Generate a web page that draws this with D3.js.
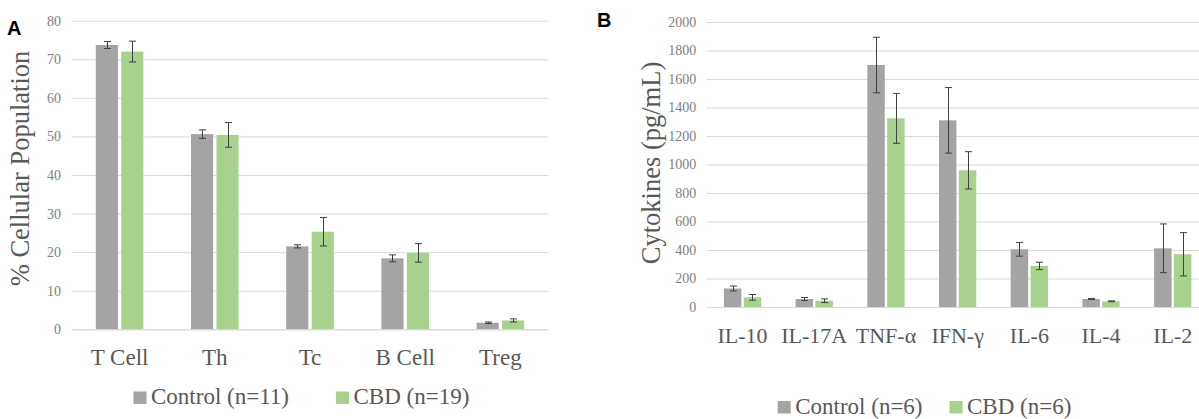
<!DOCTYPE html>
<html>
<head>
<meta charset="utf-8">
<script src="https://cdn.jsdelivr.net/npm/d3@7"></script>
<style>
  body { margin: 0; background: #fff; }
  svg { display: block; }
</style>
</head>
<body>
<div id="chart"></div>
<script>
// Panel A: immune cell populations
var cellTypes = ['T Cell', 'Th', 'Tc', 'B Cell', 'Treg']
var cellControl = [73.7, 50.6, 21.5, 18.4, 1.7]
var cellControlErr = [0.9, 1.1, 0.4, 0.9, 0.2]
var cellCbd = [72.0, 50.4, 25.3, 19.8, 2.3]
var cellCbdErr = [2.7, 3.2, 3.7, 2.4, 0.4]
var cellTicks = [0, 10, 20, 30, 40, 50, 60, 70, 80]

// Panel B: cytokines
var cytokines = ['IL-10', 'IL-17A', 'TNF-α', 'IFN-γ', 'IL-6', 'IL-4', 'IL-2']
var cytoControl = [130, 56, 1698, 1310, 405, 56, 412]
var cytoControlErr = [17, 11, 195, 230, 48, 4, 171]
var cytoCbd = [68, 44, 1324, 959, 288, 40, 370]
var cytoCbdErr = [20, 13, 175, 131, 26, 3, 152]
var cytoTicks = [0, 200, 400, 600, 800, 1000, 1200, 1400, 1600, 1800, 2000]

var seriesKeys = ['control', 'cbd']
var colors = { control: '#a6a3a3', cbd: '#a9d18e' }
var serif = '"Liberation Serif", "Times New Roman", serif'

var svg = d3.select('#chart')
  .append('svg')
  .attr('width', 1199)
  .attr('height', 419)

function drawPanel(opts) {
  var g = svg.append('g')

  var x = d3.scaleBand()
    .domain(opts.categories)
    .range(opts.xRange)
    .paddingInner(opts.pad)
    .paddingOuter(opts.pad / 2)

  var xSub = d3.scaleBand()
    .domain(seriesKeys)
    .range([0, x.bandwidth()])
    .paddingInner(opts.subPad)

  var y = d3.scaleLinear()
    .domain([0, d3.max(opts.ticks)])
    .range(opts.yRange)

  // gridlines + tick labels
  var yAxis = d3.axisLeft(y)
    .tickValues(opts.ticks)
    .tickFormat(d3.format('d'))
    .tickSize(-(opts.xRange[1] - opts.xRange[0]))
    .tickPadding(opts.tickPad)

  var ya = g.append('g')
    .attr('transform', 'translate(' + opts.xRange[0] + ',0)')
    .attr('font-family', serif)
    .call(yAxis)
  ya.attr('font-family', serif)
  ya.select('.domain').remove()
  ya.selectAll('.tick line').attr('stroke', '#d9d9d9')
  ya.selectAll('.tick text')
    .attr('font-size', '14px')
    .attr('fill', '#808080')

  var rows = opts.categories.map(function(c, i) {
    return [
      { cat: c, key: 'control', value: opts.control[i], err: opts.controlErr[i] },
      { cat: c, key: 'cbd', value: opts.cbd[i], err: opts.cbdErr[i] }
    ]
  })
  var flat = [].concat.apply([], rows)

  g.append('g')
    .selectAll('rect')
    .data(flat)
    .enter().append('rect')
    .attr('x', d => x(d.cat) + xSub(d.key))
    .attr('y', d => y(d.value))
    .attr('width', xSub.bandwidth())
    .attr('height', d => y(0) - y(d.value))
    .attr('fill', d => colors[d.key])

  // error bars
  var eb = g.append('g')
    .selectAll('g')
    .data(flat)
    .enter().append('g')
    .attr('stroke', '#404040')
    .attr('stroke-width', 1)

  function cx(d) { return Math.round(x(d.cat) + xSub(d.key) + xSub.bandwidth() / 2) + 0.5 }

  eb.append('line')
    .attr('x1', cx).attr('x2', cx)
    .attr('y1', d => y(d.value + d.err))
    .attr('y2', d => y(Math.max(0, d.value - d.err)))
  eb.append('line')
    .attr('x1', d => cx(d) - 3.5).attr('x2', d => cx(d) + 3.5)
    .attr('y1', d => y(d.value + d.err)).attr('y2', d => y(d.value + d.err))
  eb.append('line')
    .attr('x1', d => cx(d) - 3.5).attr('x2', d => cx(d) + 3.5)
    .attr('y1', d => y(Math.max(0, d.value - d.err))).attr('y2', d => y(Math.max(0, d.value - d.err)))

  // category labels
  var xa = g.append('g')
    .attr('transform', 'translate(0,' + y(0) + ')')
    .call(d3.axisBottom(x).tickSize(0).tickPadding(opts.labelPad))
  xa.attr('font-family', serif)
  xa.select('.domain')
    .attr('stroke', '#d9d9d9')
  xa.selectAll('.tick text')
    .attr('font-size', opts.labelSize + 'px')
    .attr('fill', '#595959')

  // y title
  g.append('text')
    .attr('transform', 'translate(' + opts.titleX + ',' + opts.titleY + ') rotate(-90)')
    .attr('text-anchor', 'middle')
    .attr('font-family', serif)
    .attr('font-size', '26.5px')
    .attr('fill', '#595959')
    .text(opts.title)

  // panel letter
  g.append('text')
    .attr('x', opts.letterX)
    .attr('y', opts.letterY)
    .attr('font-family', '"Liberation Sans", Arial, sans-serif')
    .attr('font-weight', 'bold')
    .attr('font-size', '20px')
    .attr('fill', '#000')
    .text(opts.letter)

  // legend
  var lx = opts.legendX
  opts.legendLabels.forEach(function(lbl, i) {
    g.append('rect')
      .attr('x', lx)
      .attr('y', opts.legendY - 12.5)
      .attr('width', 13)
      .attr('height', 12.5)
      .attr('fill', colors[seriesKeys[i]])
    var t = g.append('text')
      .attr('x', lx + 17.5)
      .attr('y', opts.legendY)
      .attr('font-family', serif)
      .attr('font-size', '23px')
      .attr('fill', '#595959')
      .text(lbl)
    lx = lx + 17.5 + t.node().getComputedTextLength() + opts.legendGap
  })
}

drawPanel({
  categories: cellTypes,
  control: cellControl, controlErr: cellControlErr,
  cbd: cellCbd, cbdErr: cellCbdErr,
  ticks: cellTicks,
  xRange: [72, 548], yRange: [329.3, 20.7],
  pad: 0.5, subPad: 0.13, tickPad: 11,
  labelPad: 19.5, labelSize: 23,
  title: '% Cellular Population', titleX: 28.5, titleY: 168.5,
  letter: 'A', letterX: 7, letterY: 35,
  legendLabels: ['Control (n=11)', 'CBD (n=19)'],
  legendX: 133.5, legendY: 404, legendGap: 47
})

drawPanel({
  categories: cytokines,
  control: cytoControl, controlErr: cytoControlErr,
  cbd: cytoCbd, cbdErr: cytoCbdErr,
  ticks: cytoTicks,
  xRange: [706.7, 1208.6], yRange: [307, 22],
  pad: 0.48, subPad: 0.12, tickPad: 10.5,
  labelPad: 20.5, labelSize: 22,
  title: 'Cytokines (pg/mL)', titleX: 660, titleY: 163,
  letter: 'B', letterX: 597, letterY: 26.7,
  legendLabels: ['Control (n=6)', 'CBD (n=6)'],
  legendX: 777.7, legendY: 413.5, legendGap: 27
})
</script>
</body>
</html>
